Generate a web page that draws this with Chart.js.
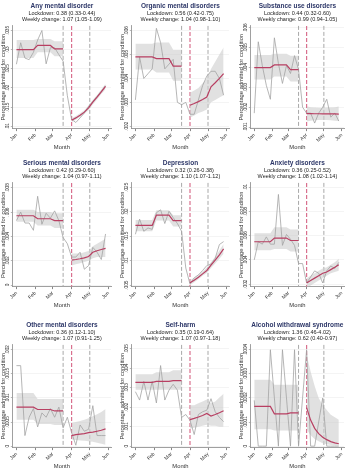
<!DOCTYPE html>
<html>
<head>
<meta charset="utf-8">
<script src="https://cdn.jsdelivr.net/npm/chart.js@4.4.1/dist/chart.umd.min.js"></script>
<style>
  body { margin: 0; background: #fff; width: 350px; height: 470px; overflow: hidden; position: relative; }
  .panel { position: absolute; }
</style>
</head>
<body>
<div class="panel" style="left:0;top:0"><canvas id="c0" width="117" height="151"></canvas></div>
<div class="panel" style="left:119px;top:0"><canvas id="c1" width="116" height="151"></canvas></div>
<div class="panel" style="left:238px;top:0"><canvas id="c2" width="112" height="151"></canvas></div>
<div class="panel" style="left:0;top:157px"><canvas id="c3" width="117" height="152"></canvas></div>
<div class="panel" style="left:119px;top:157px"><canvas id="c4" width="116" height="152"></canvas></div>
<div class="panel" style="left:238px;top:157px"><canvas id="c5" width="112" height="152"></canvas></div>
<div class="panel" style="left:0;top:319px"><canvas id="c6" width="117" height="151"></canvas></div>
<div class="panel" style="left:119px;top:319px"><canvas id="c7" width="116" height="151"></canvas></div>
<div class="panel" style="left:238px;top:319px"><canvas id="c8" width="112" height="151"></canvas></div>
<script>
// weeks (day of year, Jan 1 = 0)
var weekDays = [0, 7, 14, 21, 28, 35, 42, 49, 56, 63, 70, 77, 84, 91, 98, 105, 112, 119, 126, 133, 140, 147];
var preDays = [0, 7, 14, 21, 28, 35, 42, 49, 56, 63, 70, 77];
var preMonth = [0, 0, 0, 0, 0, 1, 1, 1, 1, 2, 2, 2];
var postDays = [91, 98, 105, 112, 119, 126, 133, 140, 147];
var monthTicks = [0, 31, 60, 91, 121, 152];
var monthLabels = ['Jan', 'Feb', 'Mar', 'Apr', 'May', 'Jun'];
var greyLines = [77, 121];
var lockdownDay = 91;

var titles = ['Any mental disorder', 'Organic mental disorders', 'Substance use disorders',
  'Serious mental disorders', 'Depression', 'Anxiety disorders',
  'Other mental disorders', 'Self-harm', 'Alcohol withdrawal syndrome'];
var lockdownText = ['Lockdown: 0.38 (0.33-0.44)', 'Lockdown: 0.56 (0.42-0.75)', 'Lockdown: 0.44 (0.32-0.60)',
  'Lockdown: 0.42 (0.29-0.60)', 'Lockdown: 0.32 (0.26-0.38)', 'Lockdown: 0.36 (0.25-0.52)',
  'Lockdown: 0.36 (0.12-1.10)', 'Lockdown: 0.35 (0.19-0.64)', 'Lockdown: 1.36 (0.46-4.02)'];
var weeklyText = ['Weekly change: 1.07 (1.05-1.09)', 'Weekly change: 1.04 (0.98-1.10)', 'Weekly change: 0.99 (0.94-1.05)',
  'Weekly change: 1.04 (0.97-1.11)', 'Weekly change: 1.10 (1.07-1.12)', 'Weekly change: 1.08 (1.02-1.14)',
  'Weekly change: 1.07 (0.91-1.25)', 'Weekly change: 1.07 (0.97-1.18)', 'Weekly change: 0.62 (0.40-0.97)'];

var yTicks = [
  [.01, .015, .02, .025, .03, .035],
  [.002, .003, .004, .005, .006],
  [.001, .002, .003, .004, .005, .006],
  [0, .002, .004, .006, .008],
  [.005, .01, .015, .02, .025],
  [.002, .004, .006, .008, .01],
  [0, .0005, .001, .0015, .002],
  [0, .001, .002, .003, .004, .005],
  [0, .0001, .0002, .0003, .0004]
];
var yMin = [.0094, .0019, .00092, -.00013, .0047, .0018, -.00003, -.00007, -.000006];
var yMax = [.0362, .0062, .0061, .0084, .0259, .01035, .0021, .0052, .00042];

// observed weekly proportions
var observed = [
  [.0262, .0318, .0278, .0274, .0293, .0325, .0350, .0263, .0305, .0305, .0287, .0270, .0180, .0118, .0110, .0122, .0135, .0152, .0165, .0178, .0192, .0206],
  [.0031, .0049, .0040, .0042, .0044, .0061, .0055, .0044, .0046, .0048, .0030, .0029, .0030, .0025, .0025, .0031, .0037, .0041, .0043, .0043, .0040, .0033],
  [.0017, .0053, .0041, .0031, .0024, .0055, .0042, .0032, .0041, .0037, .0046, .0039, .0020, .0017, .0017, .0012, .0017, .0020, .0024, .0015, .0017, .0013],
  [.0053, .0060, .0051, .0051, .0045, .0073, .0050, .0059, .0055, .0061, .0053, .0039, .0034, .0023, .0023, .0027, .0013, .0016, .0031, .0027, .0021, .0042],
  [.0154, .0185, .0160, .0167, .0164, .0198, .0204, .0176, .0201, .0188, .0176, .0160, .0085, .0052, .0065, .0071, .0080, .0090, .0093, .0105, .0133, .0139],
  [.0040, .0055, .0053, .0059, .0053, .0053, .0094, .0052, .0061, .0057, .0052, .0037, .0037, .0021, .0026, .0031, .0029, .0021, .0031, .0035, .0033, .0038],
  [.00167, .00167, .00022, .00060, .00078, .00040, .00069, .00060, .00078, .00060, .00081, .00038, .00060, .00028, .00002, .00044, .00031, .00035, .00084, .00022, .00022, .00022],
  [.00280, .00237, .00333, .00237, .00333, .00222, .00414, .00237, .00288, .00318, .00288, .00148, .00163, .00133, .00060, .00163, .00177, .00185, .00244, .00177, .00148, .00126],
  [.00019, 0, 0, 0, .0004, .0002, 0, .0004, .0002, 0, .0004, 0, .0002, .0004, 0, 0, .0001, .0002, 0, 0, 0, 0]
];

// fitted pre-lockdown level by month (Jan, Feb, Mar) and its interval
var fitPre = [
  [.0300, .0311, .0302], [.0049, .00483, .00452], [.0040, .00413, .0039],
  [.0057, .00545, .0053], [.0172, .0193, .0182], [.0055, .0058, .0056],
  [.00081, .00076, .00073], [.00328, .00333, .00337], [.000165, .000134, .000138]
];
var preHi = [
  [.0325, .0328, .0322], [.00545, .0055, .0052], [.00463, .0047, .0046],
  [.0062, .0060, .0059], [.0183, .0203, .0193], [.0062, .0067, .0065],
  [.00110, .00098, .00098], [.0037, .0038, .0039], [.000275, .000255, .000255]
];
var preLo = [
  [.0278, .0293, .0283], [.00438, .00425, .0039], [.0034, .00355, .0033],
  [.0052, .0049, .0047], [.0160, .0182, .0170], [.0048, .0049, .0047],
  [.00055, .00046, .00044], [.0029, .0029, .0029], [.00007, .000065, .000065]
];

// fitted post-lockdown weekly values and interval
var fitPost = [
  [.0116, .0122, .0129, .0137, .0148, .0163, .0176, .0190, .0204],
  [.00288, .00295, .00303, .00312, .00322, .00365, .00382, .00400, .00420],
  [.00168, .00168, .00167, .00167, .00166, .00167, .00166, .00166, .00165],
  [.00205, .0021, .00216, .00223, .00235, .0027, .00282, .00292, .00302],
  [.0055, .0060, .0066, .0073, .0080, .0091, .0101, .0112, .0124],
  [.0021, .0023, .0025, .0027, .0029, .0030, .0032, .0034, .0036],
  [.00022, .00024, .00025, .00026, .00028, .00029, .00031, .00033, .00036],
  [.00137, .00143, .0015, .00158, .00168, .00155, .00163, .00172, .00182],
  [.000160, .000108, .000074, .000052, .000037, .000027, .000019, .000014, .000010]
];
var postHi = [
  [.0121, .0127, .0134, .0142, .0154, .0169, .0182, .0196, .0211],
  [.0034, .0035, .0036, .0038, .0040, .0044, .0047, .0050, .0053],
  [.00205, .0020, .00198, .00197, .00197, .00198, .00199, .0020, .00203],
  [.0026, .0026, .0026, .0027, .0028, .0032, .0034, .0036, .0038],
  [.0060, .0065, .0071, .0078, .0086, .0097, .0108, .0121, .0134],
  [.0025, .0027, .0029, .0031, .0033, .0034, .0036, .0038, .0041],
  [.00048, .00050, .00052, .00055, .00058, .00062, .00066, .00071, .00077],
  [.0021, .0021, .0022, .0023, .0024, .0022, .0023, .0025, .0027],
  [.00038, .00031, .00025, .00020, .00017, .00015, .00013, .00012, .00011]
];
var postLo = [
  [.0111, .0117, .0124, .0132, .0142, .0157, .0170, .0184, .0197],
  [.00235, .00245, .00255, .00262, .0027, .0030, .0031, .0032, .0033],
  [.00128, .00132, .00134, .00135, .00135, .00135, .00134, .00132, .0013],
  [.0016, .0017, .0018, .0019, .0020, .0022, .0023, .0023, .0023],
  [.0050, .0056, .0062, .0069, .0075, .0085, .0094, .0104, .0114],
  [.0017, .0019, .0021, .0023, .0025, .0027, .0029, .0030, .0031],
  [.00014, .00013, .00012, .00011, .0001, .00009, .00007, .00005, .00003],
  [.0009, .00095, .0010, .00105, .0011, .00105, .00105, .0010, .0010],
  [.00007, .000045, .00003, .00002, .000012, .000008, .000005, .000003, .000002]
];

var pink = '#b83f62';
var greyLine = '#a3a3a3';
var bandColor = 'rgba(205,205,205,0.6)';
var clear = 'rgba(0,0,0,0)';
var fontFamily = '"Liberation Sans", Arial, sans-serif';

Chart.defaults.font.family = fontFamily;
Chart.defaults.color = '#333';

function pts(xs, ys) {
  return xs.map(function(x, i) { return { x: x, y: ys[i] }; });
}
function byMonth(vals) {
  return preDays.map(function(d, i) { return { x: d, y: vals[preMonth[i]] }; });
}
function fmt(v) {
  if (v === 0) return '0';
  return String(+v.toPrecision(6)).replace(/^0\./, '.');
}

// vertical dashed reference lines
var eventLines = {
  id: 'eventLines',
  beforeDatasetsDraw: function(chart) {
    var ctx = chart.ctx, area = chart.chartArea, xs = chart.scales.x;
    ctx.save();
    greyLines.forEach(function(d) {
      var x = xs.getPixelForValue(d);
      ctx.strokeStyle = '#a8a8a8';
      ctx.lineWidth = 1;
      ctx.setLineDash([4, 2]);
      ctx.beginPath(); ctx.moveTo(x, area.top); ctx.lineTo(x, area.bottom); ctx.stroke();
    });
    var lx = xs.getPixelForValue(lockdownDay);
    ctx.strokeStyle = '#d9708e';
    ctx.lineWidth = 1.2;
    ctx.setLineDash([4, 2]);
    ctx.beginPath(); ctx.moveTo(lx, area.top); ctx.lineTo(lx, area.bottom); ctx.stroke();
    ctx.restore();
  }
};

// y tick labels, written sideways like the original
var yLabels = {
  id: 'yLabels',
  afterDraw: function(chart) {
    var sc = chart.scales.y, ctx = chart.ctx;
    var x = sc.right - 2 - 1.2 - 2.35;
    ctx.save();
    ctx.fillStyle = '#333';
    ctx.font = '4.7px ' + fontFamily;
    ctx.textAlign = 'center';
    ctx.textBaseline = 'middle';
    sc.ticks.forEach(function(t) {
      var y = sc.getPixelForValue(t.value);
      ctx.save();
      ctx.translate(x, y);
      ctx.rotate(-Math.PI / 2);
      ctx.fillText(fmt(t.value), 0, 0);
      ctx.restore();
    });
    ctx.restore();
  }
};

for (var p = 0; p < 9; p++) {
  (function(p) {
    new Chart(document.getElementById('c' + p), {
      type: 'line',
      data: {
        datasets: [
          { data: byMonth(fitPre[p]), borderColor: pink, borderWidth: 1.2, pointRadius: 0, order: 0 },
          { data: pts(postDays, fitPost[p]), borderColor: pink, borderWidth: 1.2, pointRadius: 0, order: 0 },
          { data: pts(weekDays, observed[p]), borderColor: greyLine, borderWidth: 0.8, pointRadius: 0, order: 1 },
          { data: byMonth(preHi[p]), borderColor: clear, borderWidth: 0, pointRadius: 0, fill: false, order: 2 },
          { data: byMonth(preLo[p]), borderColor: clear, borderWidth: 0, pointRadius: 0, fill: '-1', backgroundColor: bandColor, order: 2 },
          { data: pts(postDays, postHi[p]), borderColor: clear, borderWidth: 0, pointRadius: 0, fill: false, order: 2 },
          { data: pts(postDays, postLo[p]), borderColor: clear, borderWidth: 0, pointRadius: 0, fill: '-1', backgroundColor: bandColor, order: 2 }
        ]
      },
      options: {
        responsive: false,
        animation: false,
        devicePixelRatio: 1,
        layout: { padding: { left: 0.5, right: 6, top: 2, bottom: 0 } },
        plugins: {
          legend: { display: false },
          tooltip: { enabled: false },
          title: {
            display: true, text: titles[p], color: '#2d3768', fullSize: false,
            font: { size: 6.5, weight: 'bold' }, padding: { top: 0, bottom: 1 }
          },
          subtitle: {
            display: true, text: [lockdownText[p], weeklyText[p]], color: '#222', fullSize: false,
            font: { size: 5.5, lineHeight: 1.1 }, padding: { top: 0, bottom: 3 }
          }
        },
        scales: {
          x: {
            type: 'linear', min: -6, max: 156,
            afterBuildTicks: function(axis) { axis.ticks = monthTicks.map(function(v) { return { value: v }; }); },
            ticks: {
              autoSkip: false, minRotation: 45, maxRotation: 45, padding: 1,
              font: { size: 5 }, color: '#333',
              callback: function(v, i) { return monthLabels[i]; }
            },
            grid: { drawOnChartArea: false, tickLength: 2.5, tickColor: '#888' },
            border: { color: '#888', width: 0.8 },
            title: { display: true, text: 'Month', font: { size: 5.8 }, color: '#333', padding: { top: 0, bottom: 0 } }
          },
          y: {
            min: yMin[p], max: yMax[p],
            afterBuildTicks: function(axis) { axis.ticks = yTicks[p].map(function(v) { return { value: v }; }); },
            ticks: { display: false },
            grid: { color: '#ededed', lineWidth: 0.6, tickLength: 2, tickColor: '#888' },
            border: { color: '#888', width: 0.8 },
            title: {
              display: true, text: 'Percentage admitted for condition', color: '#333',
              font: { size: 5.8, lineHeight: 1 }, padding: { top: 0, bottom: 4.5 }
            }
          }
        }
      },
      plugins: [eventLines, yLabels]
    });
  })(p);
}
</script>
</body>
</html>
